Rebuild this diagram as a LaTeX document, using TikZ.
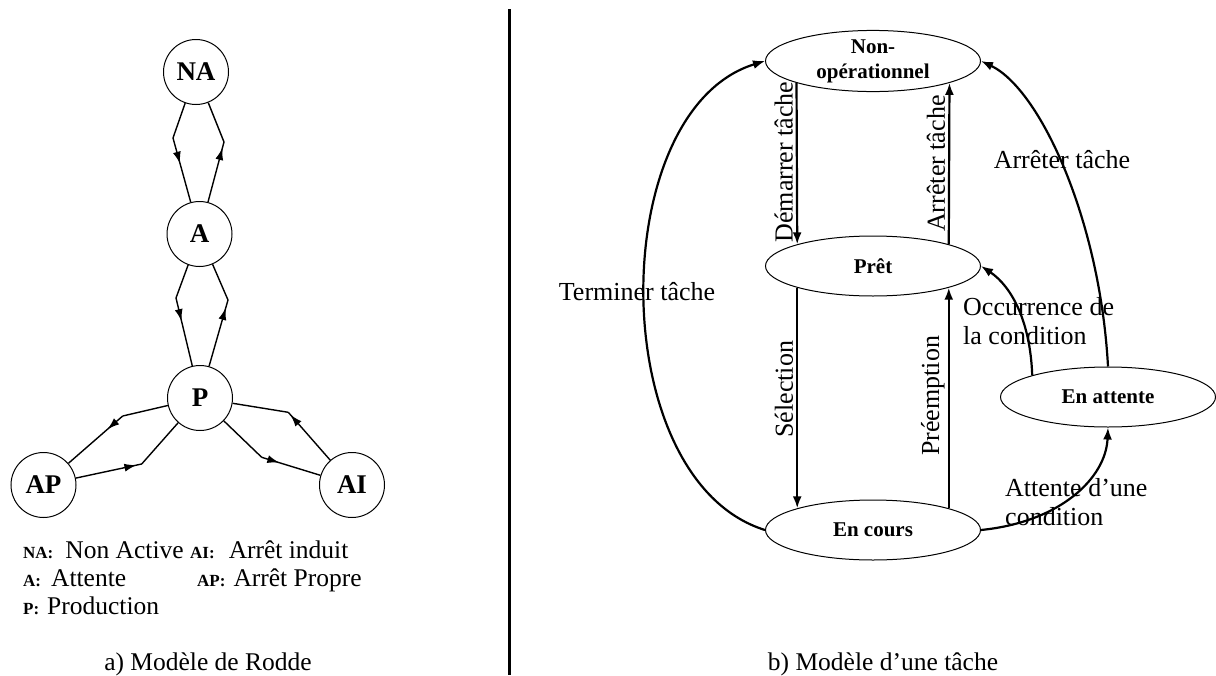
\documentclass[tikz,border=0pt]{standalone}
\usepackage{fontspec}
\setmainfont{Liberation Serif}
\usetikzlibrary{arrows.meta,calc,decorations.markings,shapes.geometric}

\tikzset{
  etat/.style={draw, circle, minimum size=65, inner sep=0pt, line width=1pt,
    font=\fontsize{27}{30}\selectfont\bfseries},
  lien/.style={line width=1.4pt},
  pointe/.style={postaction={decorate}, decoration={markings,
    mark=at position #1 with {\arrow{Latex[length=12pt,width=8pt]}}}},
  tache/.style={draw, ellipse, minimum width=215, minimum height=60, inner sep=0pt,
    line width=1pt, align=center, font=\fontsize{21}{25}\selectfont\bfseries},
  trans/.style={line width=2.2pt, -{Latex[length=12pt,width=9pt]}},
  lbl/.style={inner sep=0pt, font=\fontsize{26}{29}\selectfont},
  lbv/.style={lbl, rotate=90, anchor=south, inner sep=3pt},
  leg/.style={inner sep=0pt, anchor=base west, font=\fontsize{25.5}{28}\selectfont},
}
\newcommand{\cle}[1]{{\fontsize{17}{19}\selectfont\bfseries #1}}

\begin{document}
\begin{tikzpicture}[x=1pt, y=-1pt]
			%%%%% START %%%%%
			\useasboundingbox (0,0) rectangle (1216,675);
			
			% a) modele de Rodde
			\node[etat] (NA) at (196,72) {NA};
			\node[etat] (A) at (199.5,234) {A};
			\node[etat] (P) at (200,398) {P};
			\node[etat] (AP) at (43.5,485) {AP};
			\node[etat] (AI) at (352,485) {AI};
			
			\coordinate (k1) at (173,138);
			\coordinate (k2) at (224,142);
			\coordinate (k3) at (176,298);
			\coordinate (k4) at (228,300);
			\coordinate (k5) at (122.7,416);
			\coordinate (k6) at (141.7,464);
			\coordinate (k7) at (288.3,412.3);
			\coordinate (k8) at (261.7,457.3);
			
			\draw[lien] (NA) -- (k1);
			\draw[lien, pointe=0.4] (k1) -- (A);
			\draw[lien, pointe=0.9] (A) -- (k2);
			\draw[lien] (k2) -- (NA);
			
			\draw[lien] (A) -- (k3);
			\draw[lien, pointe=0.34] (k3) -- (P);
			\draw[lien, pointe=0.88] (P) -- (k4);
			\draw[lien] (k4) -- (A);
			
			\draw[lien] (P) -- (k5);
			\draw[lien, pointe=0.28] (k5) -- (AP);
			\draw[lien, pointe=0.92] (AP) -- (k6);
			\draw[lien] (k6) -- (P);
			
			\draw[lien, pointe=0.95] (AI) -- (k7);
			\draw[lien] (k7) -- (P);
			\draw[lien] (P) -- (k8);
			\draw[lien, pointe=0.3] (k8) -- (AI);
			
			\node[leg] (legNA) at (23,558) {\cle{NA:}\hspace{12pt}Non Active};
			\node[leg] (legA) at (23,586) {\cle{A:}\hspace{10pt}Attente};
			\node[leg] (legP) at (23,614) {\cle{P:}\hspace{8pt}Production};
			\node[leg] (legAI) at (190,558) {\cle{AI:}\hspace{14pt}Arrêt induit};
			\node[leg] (legAP) at (197,586) {\cle{AP:}\hspace{8pt}Arrêt Propre};
			
			\node[leg, anchor=base] (capA) at (208,670) {a) Modèle de Rodde};
			
			\draw[line width=3pt] (509,9) -- (509,675);
			
			% b) modele d'une tache
			\node[tache] (NO) at (873,61) {Non-\\opérationnel};
			\node[tache] (PR) at (873,266) {Prêt};
			\node[tache] (EC) at (873,530) {En cours};
			\node[tache] (EA) at (1108,397) {En attente};
			
			\node[lbl, anchor=base] (lTer) at (637,300) {Terminer tâche};
			\node[lbl, anchor=base] (lArr) at (1062,168) {Arrêter tâche};
			\node[lbl, anchor=west, align=left] (lOcc) at (963,321) {Occurrence de\\la condition};
			\node[lbl, anchor=west, align=left] (lAtt) at (1005,502) {Attente d’une\\condition};
			
			\draw[trans] (NO.196) -- node[lbv, pos=0.49] (lDem) {Démarrer tâche} (PR.164);
			\draw[trans] (PR.16) -- node[lbv, pos=0.5] (lArv) {Arrêter tâche} (NO.344);
			\draw[trans] (PR.196) -- node[lbv, pos=0.46] (lSel) {Sélection} (EC.164);
			\draw[trans] (EC.16) -- node[lbv, pos=0.51] (lPre) {Préemption} (PR.344);
			
			\draw[trans] (EC.west) .. controls +(-161,-50) and +(-160,49) .. (NO.west);
			\draw[trans] (EA.north) .. controls +(-8,-147) and +(59,28) .. (NO.east);
			\draw[trans] (EA.164) .. controls +(-2,-55) and +(30,20) .. (PR.east);
			\draw[trans] (EC.east) .. controls +(80,-8) and +(-2,50) .. (EA.south);
			
			\node[leg, anchor=base] (capB) at (883,670) {b) Modèle d’une tâche};
			
			%%%%% END %%%%%
\end{tikzpicture}
\end{document}
